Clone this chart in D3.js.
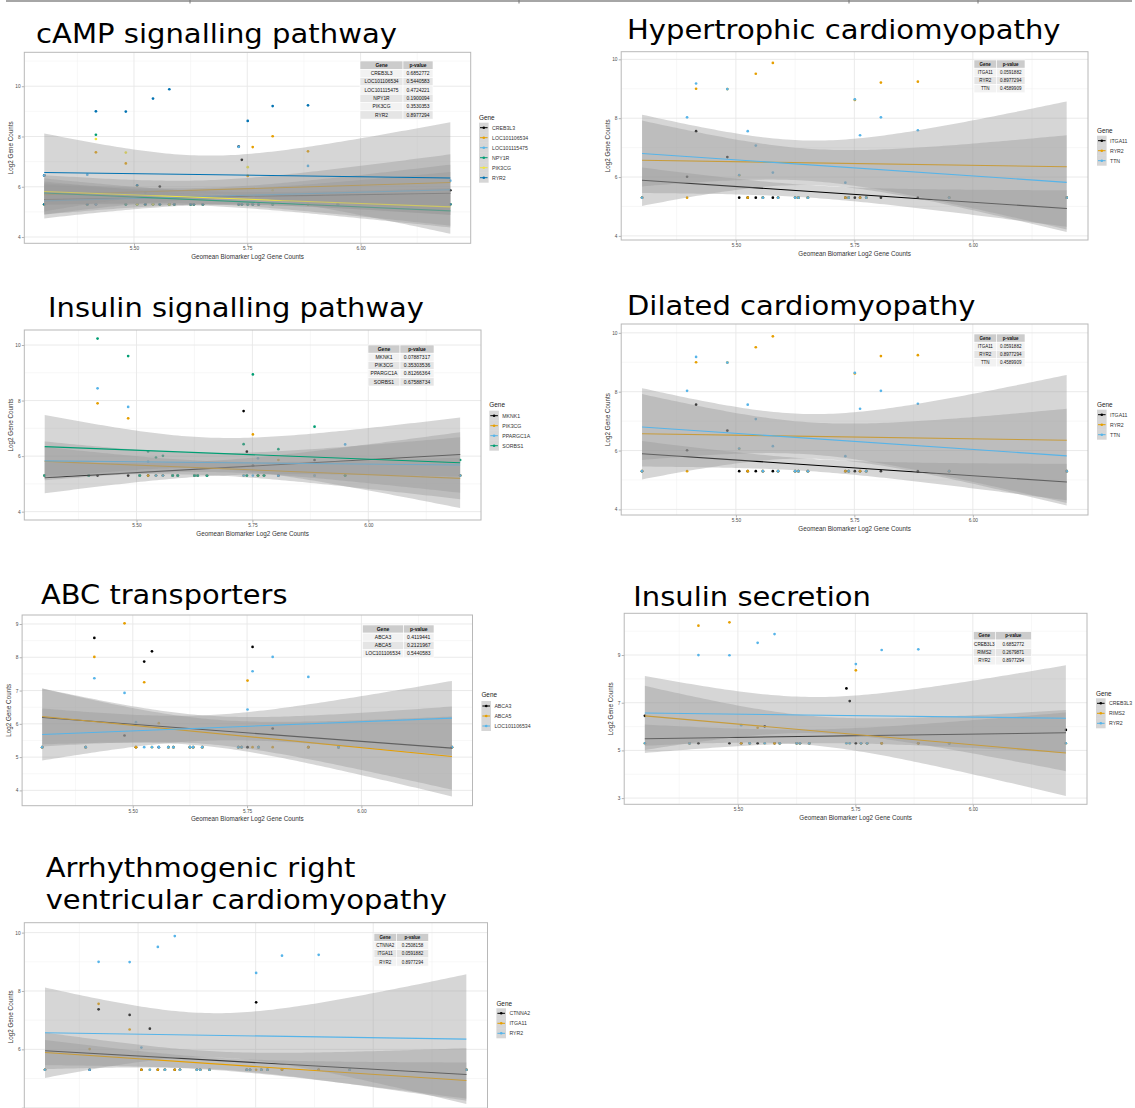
<!DOCTYPE html>
<html><head><meta charset="utf-8">
<script src="https://cdn.jsdelivr.net/npm/d3@7"></script>
<style>body{margin:0;background:#fff}svg{display:block}</style>
</head><body><svg id="c" width="1135" height="1108"></svg>
<script>
// ---------- DATA ----------
const sampleGeomean = [5.302,5.397,5.416,5.482,5.507,5.525,5.542,5.557,5.578,5.589,5.625,5.632,5.652,5.731,5.738,5.751,5.762,5.775,5.806,5.884,5.950,6.198];

const countsCREB3L3      = [6.45,5.3,5.3,5.3,5.3,5.3,5.3,6.01,5.3,5.3,5.3,5.3,5.3,7.60,7.07,5.3,5.3,5.3,5.3,5.3,5.3,5.86];
const countsLOC101106534 = [5.3,5.3,7.37,6.93,6.05,5.3,5.3,5.3,5.3,5.3,5.3,5.3,5.3,5.3,5.3,6.43,7.58,5.3,8.01,7.41,5.3,5.3];
const countsLOC101115475 = [6.45,6.48,5.3,5.3,5.3,5.77,5.3,5.3,5.3,5.3,5.3,5.3,5.3,7.59,5.3,5.3,5.3,5.3,5.3,6.83,5.3,6.24];
const countsNPY1R        = [5.3,5.3,8.07,5.3,5.3,5.3,5.3,5.3,5.3,5.3,5.3,5.3,5.3,5.3,5.3,5.3,5.3,5.3,5.3,5.3,5.3,5.3];
const countsPIK3CG       = [5.3,5.3,7.90,7.36,5.3,5.3,5.3,5.3,5.3,5.3,5.3,5.3,5.3,5.3,5.3,6.78,5.3,5.3,5.86,5.3,5.3,5.3];
const countsRYR2         = [5.3,5.3,9.00,8.99,6.06,5.3,9.51,5.3,9.88,5.3,5.3,5.3,5.3,5.3,5.3,8.62,5.3,5.3,9.21,9.24,5.3,5.3];
const countsITGA11       = [5.3,6.01,7.56,6.68,5.3,5.3,5.3,5.3,5.3,5.3,5.3,5.3,5.3,5.3,5.3,5.3,5.3,5.3,5.3,5.3,5.3,5.3];
const countsTTN          = [5.3,8.03,9.18,8.99,6.07,7.56,7.07,5.3,6.15,5.3,5.3,5.3,5.3,5.81,5.3,8.64,7.42,5.3,8.03,7.59,5.3,5.3];
const countsMKNK1        = [5.3,5.3,5.3,5.3,5.3,5.3,5.3,5.3,5.3,5.3,5.3,5.3,5.3,7.62,6.16,5.66,5.3,5.3,5.3,5.86,5.3,5.3];
const countsPPARGC1A     = [5.3,5.3,8.44,7.77,5.3,5.80,5.3,5.3,5.3,5.3,5.3,5.3,5.3,5.3,5.3,5.3,5.92,5.3,5.3,5.3,6.42,5.3];
const countsSORBS1       = [5.3,5.3,10.23,9.60,5.3,6.17,5.95,6.01,5.3,5.3,5.3,5.3,5.3,6.43,5.3,8.94,5.3,5.3,6.25,7.06,5.3,5.86];
const countsABCA3        = [5.3,5.3,8.58,5.65,5.3,7.87,8.18,5.3,5.3,5.3,5.3,5.3,5.3,5.3,5.3,5.3,8.31,5.3,5.86,5.3,5.3,5.3];
const countsABCA5        = [5.3,5.3,8.01,9.02,5.3,7.25,5.3,6.02,5.3,5.3,5.3,5.3,5.3,5.3,5.3,7.30,5.3,5.3,5.3,5.3,5.3,5.3];
const countsRIMS2        = [5.3,5.3,10.23,10.37,5.3,5.3,5.95,5.3,5.3,5.3,5.3,5.3,5.3,5.3,5.3,8.36,5.3,5.3,5.3,5.3,5.3,5.3];
const countsCTNNA2       = [5.3,5.3,7.37,7.18,5.3,6.71,5.3,5.3,5.3,5.3,5.3,5.3,5.3,5.3,5.3,7.61,5.3,5.3,5.3,5.3,5.3,5.3];

const geneNames  = ["CREB3L3","LOC101106534","LOC101115475","NPY1R","PIK3CG","RYR2","ITGA11","TTN","MKNK1","PPARGC1A","SORBS1","ABCA3","ABCA5","RIMS2","CTNNA2"];
// linear fit value at min / max geomean, and 95% CI half-width at max geomean
const fitAtMin   = [5.49,5.68,5.44,5.75,5.81,6.57,5.89,6.80,5.22,5.83,6.34,6.19,6.22,6.45,5.95];
const fitAtMax   = [5.74,6.17,5.88,5.04,5.20,6.35,4.93,5.82,6.06,5.68,5.76,5.27,5.02,4.89,5.14];
const ciHalfAtMax= [0.85,1.12,1.00,0.66,0.75,2.22,0.62,1.60,0.80,1.00,1.63,1.25,1.20,1.80,0.90];

const panelTitles = [["cAMP signalling pathway"],["Hypertrophic cardiomyopathy"],["Insulin signalling pathway"],["Dilated cardiomyopathy"],["ABC transporters"],["Insulin secretion"],["Arrhythmogenic right","ventricular cardiomyopathy"]];
const panelGenes = [
  ["CREB3L3","LOC101106534","LOC101115475","NPY1R","PIK3CG","RYR2"],
  ["ITGA11","RYR2","TTN"],
  ["MKNK1","PIK3CG","PPARGC1A","SORBS1"],
  ["ITGA11","RYR2","TTN"],
  ["ABCA3","ABCA5","LOC101106534"],
  ["CREB3L3","RIMS2","RYR2"],
  ["CTNNA2","ITGA11","RYR2"]
];
const panelPValues = [
  ["0.6852772","0.5440583","0.4724221","0.1900094","0.3530353","0.8977294"],
  ["0.0591882","0.8977294","0.4589909"],
  ["0.07887317","0.35303536","0.81266364","0.67588734"],
  ["0.0591882","0.8977294","0.4589909"],
  ["0.4119441","0.2121967","0.5440583"],
  ["0.6852772","0.2679871","0.8977294"],
  ["0.2508158","0.0591882","0.8977294"]
];
const panelYTicks = [[4,6,8,10],[4,6,8,10],[4,6,8,10],[4,6,8,10],[4,5,6,7,8,9],[3,5,7,9],[4,6,8,10]];
const panelYDomain = [[3.75,11.35],[3.86,10.26],[3.70,10.54],[3.81,10.30],[3.54,9.27],[2.74,10.75],[3.75,10.34]];
const xTicks = [5.50,5.75,6.00];
const xDomain = [5.258,6.243];

// ---------- LAYOUT ----------
const layout = [
  {L:24.3,R:470.7,T:52.3,B:243.3, title:[[36,42.7,361]], leg:[479,117.3,127.7], tab:[360,61,43,30,8.3,4.9]},
  {L:621.2,R:1088,T:51.7,B:240, title:[[627,39.3,433.5]], leg:[1097,130.7,140.7], tab:[974,60,22.5,28.5,8.2,4.5]},
  {L:24.3,R:481,T:330,B:520, title:[[48,317.3,376]], leg:[489.3,405,415.7], tab:[368,345,32,34,8.2,5.0]},
  {L:621.2,R:1088,T:324,B:515, title:[[627,315,348.5]], leg:[1097,404.3,414.7], tab:[974,334,22.5,28.5,8.2,4.5]},
  {L:22.1,R:472.5,T:615,B:805.7, title:[[41,604.3,246.5]], leg:[481.4,695,706], tab:[362.5,625,41,30.5,8.1,5.0]},
  {L:624.2,R:1087,T:613.3,B:804.3, title:[[633.3,606,237.7]], leg:[1096,693.3,703.3], tab:[973.3,631.7,22,36,8.3,4.6]},
  {L:24.3,R:487.5,T:922.7,B:1115, title:[[45.7,877.3,309.7],[45.7,909.3,401.3]], leg:[496.4,1003.3,1013.3], tab:[374,933.3,22.4,32.2,8.2,4.5]}
];
const palette = ["#000000","#E69F00","#56B4E9","#009E73","#F0E442","#0072B2"];
const FONT = "'Liberation Sans', Arial, sans-serif";
const H = 1108;

// ---------- DRAW ----------
const countsByGene = {CREB3L3:countsCREB3L3,LOC101106534:countsLOC101106534,LOC101115475:countsLOC101115475,NPY1R:countsNPY1R,PIK3CG:countsPIK3CG,RYR2:countsRYR2,ITGA11:countsITGA11,TTN:countsTTN,MKNK1:countsMKNK1,PPARGC1A:countsPPARGC1A,SORBS1:countsSORBS1,ABCA3:countsABCA3,ABCA5:countsABCA5,RIMS2:countsRIMS2,CTNNA2:countsCTNNA2};
const svg = d3.select("#c");
const defs = svg.append("defs");

// top rule
svg.append("line").attr("x1",6).attr("x2",1132).attr("y1",1).attr("y2",1).attr("stroke","#a6a6a6").attr("stroke-width",2);
[190,519,849,978].forEach(v=>svg.append("line").attr("x1",v).attr("x2",v).attr("y1",0).attr("y2",3.5).attr("stroke","#777").attr("stroke-width",1));

const xmin = d3.min(sampleGeomean), xmax = d3.max(sampleGeomean);
const n = sampleGeomean.length, xbar = d3.mean(sampleGeomean);
const sxx = d3.sum(sampleGeomean, v => (v-xbar)**2);
const shape = v => Math.sqrt(1/n + (v-xbar)**2/sxx);
const grid = d3.range(101).map(k => xmin + (xmax-xmin)*k/100);

panelTitles.forEach((titles, pi) => {
  const lay = layout[pi];
  const genes = panelGenes[pi];
  const x = d3.scaleLinear().domain(xDomain).range([lay.L, lay.R]);
  const y = d3.scaleLinear().domain(panelYDomain[pi]).range([lay.B, lay.T]);
  const col = d3.scaleOrdinal().domain(genes).range(palette);
  const g = svg.append("g");
  const cid = "clip"+pi;
  defs.append("clipPath").attr("id",cid).append("rect").attr("x",lay.L).attr("y",lay.T).attr("width",lay.R-lay.L).attr("height",lay.B-lay.T);

  g.append("rect").attr("x",lay.L).attr("y",lay.T).attr("width",lay.R-lay.L).attr("height",lay.B-lay.T).attr("fill","#fff");
  const yt = panelYTicks[pi];
  const step = yt[1]-yt[0];
  const yMinor = d3.range(yt[0]-step/2, panelYDomain[pi][1], step).filter(v => v > panelYDomain[pi][0]);
  const xMinor = [5.375,5.625,5.875,6.125];
  const gg = g.append("g").attr("clip-path",`url(#${cid})`);
  gg.selectAll(".ymn").data(yMinor).join("line").attr("x1",lay.L).attr("x2",lay.R).attr("y1",d=>y(d)).attr("y2",d=>y(d)).attr("stroke","#f1f1f1").attr("stroke-width",0.6);
  gg.selectAll(".xmn").data(xMinor).join("line").attr("y1",lay.T).attr("y2",lay.B).attr("x1",d=>x(d)).attr("x2",d=>x(d)).attr("stroke","#f1f1f1").attr("stroke-width",0.6);
  gg.selectAll(".ymj").data(yt).join("line").attr("x1",lay.L).attr("x2",lay.R).attr("y1",d=>y(d)).attr("y2",d=>y(d)).attr("stroke","#e8e8e8").attr("stroke-width",0.9);
  gg.selectAll(".xmj").data(xTicks).join("line").attr("y1",lay.T).attr("y2",lay.B).attr("x1",d=>x(d)).attr("x2",d=>x(d)).attr("stroke","#e8e8e8").attr("stroke-width",0.9);

  // points
  genes.forEach(gn => {
    const vals = countsByGene[gn];
    gg.append("g").selectAll("circle").data(vals).join("circle")
      .attr("cx",(d,i)=>x(sampleGeomean[i])).attr("cy",d=>y(d)).attr("r",1.35).attr("fill",col(gn));
  });
  // smooth ribbons + lines
  genes.forEach(gn => {
    const gi = geneNames.indexOf(gn);
    const a = fitAtMin[gi], b = fitAtMax[gi];
    const fit = v => a + (b-a)*(v-xmin)/(xmax-xmin);
    const hw = v => ciHalfAtMax[gi]*shape(v)/shape(xmax);
    gg.append("path").datum(grid)
      .attr("d", d3.area().x(v=>x(v)).y0(v=>y(fit(v)-hw(v))).y1(v=>y(fit(v)+hw(v))))
      .attr("fill","#999999").attr("fill-opacity",0.4);
    gg.append("path").datum([xmin,xmax])
      .attr("d", d3.line().x(v=>x(v)).y(v=>y(fit(v))))
      .attr("stroke",col(gn)).attr("stroke-width",1.1).attr("fill","none");
  });
  g.append("rect").attr("x",lay.L).attr("y",lay.T).attr("width",lay.R-lay.L).attr("height",lay.B-lay.T).attr("fill","none").attr("stroke","#b8b8b8").attr("stroke-width",1);

  // axes
  const ya = g.append("g").attr("transform",`translate(${lay.L},0)`)
    .call(d3.axisLeft(y).tickValues(yt).tickSize(2.5).tickPadding(1.2).tickFormat(d3.format("d")));
  const xa = g.append("g").attr("transform",`translate(0,${lay.B})`)
    .call(d3.axisBottom(x).tickValues(xTicks).tickSize(2.5).tickPadding(1.2).tickFormat(d3.format(".2f")));
  [ya,xa].forEach(a => {
    a.select(".domain").remove();
    a.selectAll("line").attr("stroke","#b3b3b3");
    a.selectAll("text").attr("fill","#4d4d4d").style("font-size","4.8px").style("font-family",FONT);
  });
  // drop labels that fall off the bottom of the page
  ya.selectAll(".tick").filter(d => y(d) > H - 4).select("text").remove();
  if (lay.B + 8 > H) xa.selectAll("text").remove();

  if (lay.B + 16 < H) {
    g.append("text").attr("x",(lay.L+lay.R)/2).attr("y",lay.B+15.5).attr("text-anchor","middle")
      .style("font-family",FONT).style("font-size","6.3px").attr("fill","#333").text("Geomean Biomarker Log2 Gene Counts");
  }
  g.append("text").attr("transform",`translate(${lay.L-13.5},${(Math.min(lay.B,H+8)+lay.T)/2 + (lay.B>H?-2:0)}) rotate(-90)`).attr("text-anchor","middle").attr("dy","0.35em")
    .style("font-family",FONT).style("font-size","6.3px").attr("fill","#333").text("Log2 Gene Counts");

  // legend
  const [lx, lty, ly0] = lay.leg;
  g.append("text").attr("x",lx).attr("y",lty+2.2).style("font-family",FONT).style("font-size","6.4px").attr("fill","#222").text("Gene");
  genes.forEach((gn,k) => {
    const cy = ly0 + k*10;
    g.append("rect").attr("x",lx).attr("y",cy-5).attr("width",9.6).attr("height",10).attr("fill","#999999").attr("fill-opacity",0.4);
    g.append("line").attr("x1",lx+1).attr("x2",lx+8.6).attr("y1",cy).attr("y2",cy).attr("stroke",col(gn)).attr("stroke-width",1);
    g.append("circle").attr("cx",lx+4.8).attr("cy",cy).attr("r",1.3).attr("fill",col(gn));
    g.append("text").attr("x",lx+13).attr("y",cy+1.8).style("font-family",FONT).style("font-size","5.2px").attr("fill","#333").text(gn);
  });

  // table
  const [tx, ty, c1, c2, rh, tf] = lay.tab;
  const rows = [["Gene","p-value"]].concat(genes.map((gn,k)=>[gn, panelPValues[pi][k]]));
  rows.forEach((r,k) => {
    const fill = k===0 ? "#cccccc" : (k%2===1 ? "#f2f2f2" : "#e5e5e5");
    [[tx,c1],[tx+c1,c2]].forEach(([cx,cw],j) => {
      g.append("rect").attr("x",cx).attr("y",ty+k*rh).attr("width",cw).attr("height",rh).attr("fill",fill).attr("stroke","#fff").attr("stroke-width",0.6);
      g.append("text").attr("x",cx+cw/2).attr("y",ty+k*rh+rh/2).attr("dy","0.35em").attr("text-anchor","middle")
        .style("font-family",FONT).style("font-size",tf+"px").style("font-weight",k===0?"bold":"normal").attr("fill","#111").text(r[j]);
    });
  });

  // title
  titles.forEach((t,k) => {
    const [tx0, tb, tw] = lay.title[k];
    svg.append("text").attr("x",tx0).attr("y",tb).attr("textLength",tw).attr("lengthAdjust","spacingAndGlyphs")
      .style("font-family","'DejaVu Sans', sans-serif").style("font-size","26px").attr("fill","#000").text(t);
  });
});
</script></body></html>
